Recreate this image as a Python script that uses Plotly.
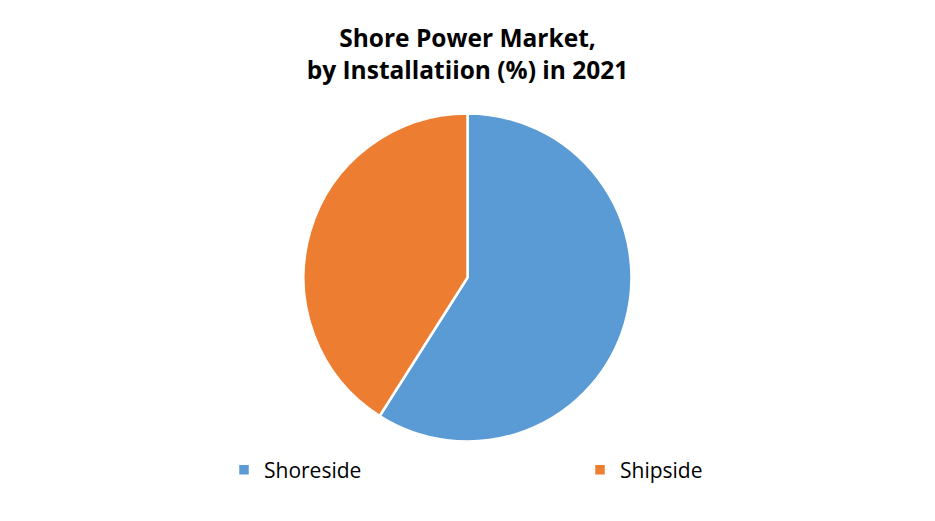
import plotly.graph_objects as go

categories = ["Shoreside", "Shipside"]
values = [59, 41]
colors = ["#5B9BD5", "#ED7D31"]

W, H = 927, 513

fig = go.Figure(go.Pie(
    labels=categories,
    values=values,
    sort=False,
    direction="clockwise",
    rotation=0,
    textinfo="none",
    hoverinfo="label+percent",
    marker=dict(colors=colors, line=dict(color="white", width=2.5)),
    domain=dict(x=[0, 919/927], y=[0.1550, 0.7943]),
))

fig.update_layout(
    width=W, height=H,
    margin=dict(l=0, r=0, t=0, b=0, autoexpand=False),
    paper_bgcolor="white",
    plot_bgcolor="white",
    title=dict(
        text="<b>Shore Power Market,<br>by Installatiion (%) in 2021</b>",
        x=459.5/W, xanchor="center",
        yref="container", y=1 - 39/H, yanchor="top",
        font=dict(family="Open Sans", size=24.5, color="black"),
    ),
    legend=dict(
        orientation="h",
        x=216/W, xanchor="left",
        y=1-462/H, yanchor="middle",
        entrywidth=311, entrywidthmode="pixels",
        font=dict(family="Open Sans", size=21, color="black"),
    ),
)

fig.write_html("out.html")
